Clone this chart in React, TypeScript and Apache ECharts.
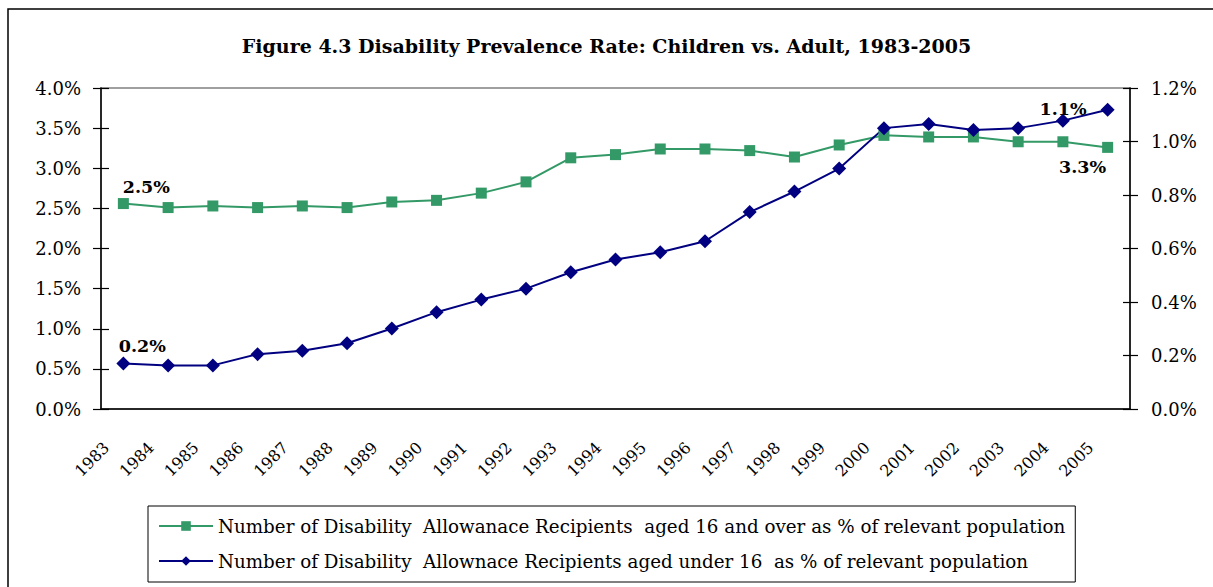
import { useEffect, useRef } from 'react';
import * as echarts from 'echarts';

const YEARS = ['1983', '1984', '1985', '1986', '1987', '1988', '1989', '1990', '1991', '1992', '1993', '1994',
  '1995', '1996', '1997', '1998', '1999', '2000', '2001', '2002', '2003', '2004', '2005'];

// % of population aged 16 and over (left axis)
const ADULT = [2.56, 2.51, 2.53, 2.51, 2.53, 2.51, 2.58, 2.60, 2.69, 2.83, 3.13, 3.17,
  3.24, 3.24, 3.22, 3.14, 3.29, 3.41, 3.39, 3.39, 3.33, 3.33, 3.26];

// % of population aged under 16 (right axis)
const CHILD = [0.170, 0.163, 0.163, 0.205, 0.218, 0.246, 0.301, 0.362, 0.409, 0.450, 0.511, 0.559,
  0.586, 0.627, 0.736, 0.813, 0.899, 1.050, 1.065, 1.043, 1.050, 1.078, 1.119];

const ADULT_NOTES: Record<number, string> = { 0: '2.5%', 22: '3.3%' };
const CHILD_NOTES: Record<number, string> = { 0: '0.2%', 22: '1.1%' };

const TITLE = 'Figure 4.3 Disability Prevalence Rate: Children vs. Adult, 1983-2005';
const ADULT_NAME = 'Number of Disability  Allowanace Recipients  aged 16 and over as % of relevant population';
const CHILD_NAME = 'Number of Disability  Allownace Recipients aged under 16  as % of relevant population';

const FONT = '"DejaVu Serif", "Liberation Serif", serif';

export default function App() {
  const chartRef = useRef<HTMLDivElement>(null);

  useEffect(() => {
    if (!chartRef.current) return;
    document.body.style.margin = '0';
    document.body.style.overflow = 'hidden';
    const chart = echarts.init(chartRef.current, undefined, { renderer: 'svg' });

    const noteLabel = (text: string, extra: object) => ({
      show: true,
      formatter: text,
      color: '#000',
      fontFamily: FONT,
      fontSize: 17.5,
      fontWeight: 'bold',
      ...extra,
    });

    const adultData = ADULT.map((v, i) => {
      if (!ADULT_NOTES[i]) return v;
      return {
        value: v,
        label: i === 0
          ? noteLabel(ADULT_NOTES[i], { position: 'top', offset: [23, 3] })
          : noteLabel(ADULT_NOTES[i], { position: 'bottom', offset: [-25, 0] }),
      };
    });

    const childData = CHILD.map((v, i) => {
      if (!CHILD_NOTES[i]) return v;
      return {
        value: v,
        label: i === 0
          ? noteLabel(CHILD_NOTES[i], { position: 'top', offset: [19, 3] })
          : noteLabel(CHILD_NOTES[i], { position: 'left', distance: 14, offset: [0, -1] }),
      };
    });

    const axisText = { color: '#000', fontFamily: FONT, fontSize: 18 };
    const blackLine = { lineStyle: { color: '#000', width: 1.5 } };
    const pct = (v: number) => v.toFixed(1) + '%';

    chart.setOption({
      animation: false,
      backgroundColor: '#fff',
      title: {
        text: TITLE,
        left: 'center',
        top: 31,
        textStyle: { color: '#000', fontFamily: FONT, fontSize: 19, fontWeight: 'bold' },
      },
      graphic: [{
        type: 'rect',
        shape: { x: 8, y: 9, width: 1230, height: 600 },
        style: { fill: 'none', stroke: '#000', lineWidth: 1.5 },
        silent: true,
      }],
      grid: {
        left: 101, right: 83, top: 88, bottom: 178,
        show: true, borderColor: '#808080', borderWidth: 1.5, backgroundColor: 'transparent',
      },
      legend: {
        orient: 'vertical',
        left: 148,
        top: 506,
        padding: [11, 10, 12, 10],
        itemGap: 17,
        itemWidth: 54,
        itemHeight: 12,
        borderColor: '#000',
        borderWidth: 1,
        textStyle: { color: '#000', fontFamily: FONT, fontSize: 18.3, width: 838, overflow: 'none' },
        data: [ADULT_NAME, CHILD_NAME],
      },
      xAxis: [
        {
          type: 'category',
          data: YEARS,
          boundaryGap: true,
          axisLine: blackLine,
          axisTick: { length: 7, lineStyle: { color: '#000', width: 1.2 } },
          axisLabel: { ...axisText, fontSize: 16, rotate: 45, margin: 19, padding: [0, 24, 0, 0], interval: 0 },
          splitLine: { show: false },
        },
        {
          type: 'category',
          data: YEARS,
          position: 'bottom',
          offset: 0,
          boundaryGap: true,
          axisLine: { show: false },
          axisTick: { inside: true, length: 7, lineStyle: { color: '#000', width: 1.2 } },
          axisLabel: { show: false },
          splitLine: { show: false },
        },
      ],
      yAxis: [
        {
          type: 'value',
          position: 'left',
          min: 0, max: 4, interval: 0.5,
          axisLine: { show: true, ...blackLine },
          axisTick: { show: true, length: 8, lineStyle: { color: '#000', width: 1.2 } },
          axisLabel: { ...axisText, margin: 20, formatter: pct },
          splitLine: { show: false },
        },
        {
          type: 'value',
          position: 'right',
          min: 0, max: 1.2, interval: 0.2,
          axisLine: { show: true, ...blackLine },
          axisTick: { show: true, length: 8, lineStyle: { color: '#000', width: 1.2 } },
          axisLabel: { ...axisText, margin: 21, formatter: pct },
          splitLine: { show: false },
        },
        {
          type: 'value',
          position: 'left',
          offset: 0,
          min: 0, max: 4, interval: 0.5,
          axisLine: { show: false },
          axisTick: { show: true, inside: true, length: 8, lineStyle: { color: '#000', width: 1.2 } },
          axisLabel: { show: false },
          splitLine: { show: false },
        },
        {
          type: 'value',
          position: 'right',
          offset: 0,
          min: 0, max: 1.2, interval: 0.2,
          axisLine: { show: false },
          axisTick: { show: true, inside: true, length: 7, lineStyle: { color: '#000', width: 1.2 } },
          axisLabel: { show: false },
          splitLine: { show: false },
        },
      ],
      series: [
        {
          name: ADULT_NAME,
          type: 'line',
          yAxisIndex: 0,
          data: adultData,
          symbol: 'rect',
          symbolSize: 11,
          color: '#339966',
          lineStyle: { color: '#339966', width: 2 },
          itemStyle: { color: '#339966' },
        },
        {
          name: CHILD_NAME,
          type: 'line',
          yAxisIndex: 1,
          data: childData,
          symbol: 'diamond',
          symbolSize: 14,
          color: '#000080',
          lineStyle: { color: '#000080', width: 2 },
          itemStyle: { color: '#000080' },
        },
      ],
    });

    return () => chart.dispose();
  }, []);

  return <div ref={chartRef} style={{ width: 1213, height: 587 }} />;
}
